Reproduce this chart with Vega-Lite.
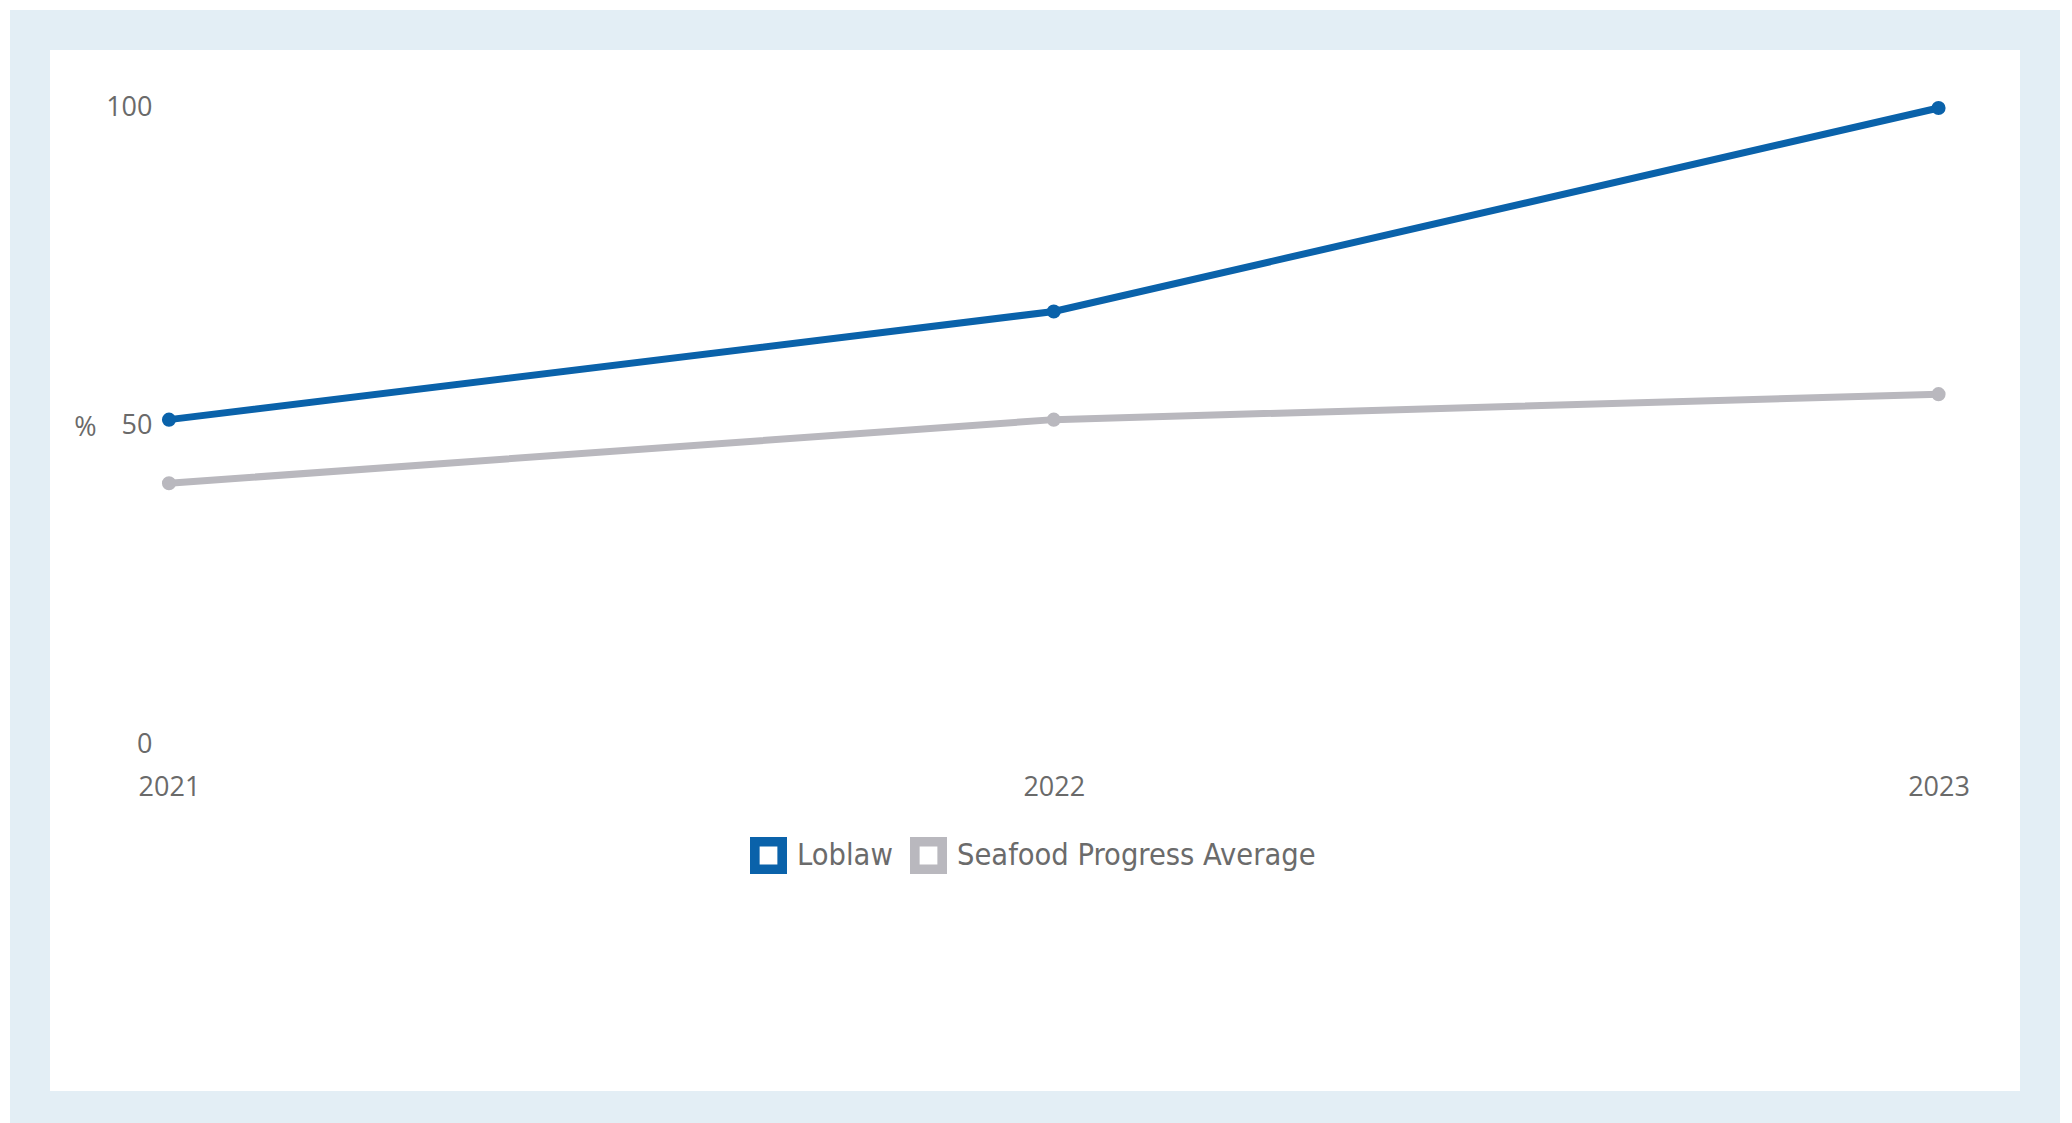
{
  "$schema": "https://vega.github.io/schema/vega-lite/v6.json",
  "width": 2010,
  "height": 1081,
  "autosize": {"type": "none"},
  "padding": {"left": 30, "top": 30, "right": 32, "bottom": 12},
  "background": "white",
  "config": {
    "view": {"stroke": "#e3eef5", "strokeWidth": 40, "fill": "white"},
    "axis": {"grid": false, "domain": false, "ticks": false, "labelFont": "Open Sans", "labelFontSize": 27, "labelColor": "#6a6a6a"}
  },
  "data": {
    "values": [
      {"year": 2021, "series": "Loblaw", "value": 51},
      {"year": 2022, "series": "Loblaw", "value": 68},
      {"year": 2023, "series": "Loblaw", "value": 100},
      {"year": 2021, "series": "Seafood Progress Average", "value": 41},
      {"year": 2022, "series": "Seafood Progress Average", "value": 51},
      {"year": 2023, "series": "Seafood Progress Average", "value": 55}
    ]
  },
  "encoding": {
    "x": {
      "field": "year", "type": "quantitative",
      "scale": {"domain": [2020.8429, 2023.1147], "nice": false, "zero": false},
      "axis": {"values": [2021, 2022, 2023], "format": "d", "title": null, "labelPadding": 0, "offset": -337, "labelBaseline": "top", "labelFlush": false, "labelOverlap": false}
    },
    "y": {
      "field": "value", "type": "quantitative",
      "scale": {"domain": [-57.7, 112.26], "nice": false, "zero": false},
      "axis": {"values": [0, 50, 100], "title": "%", "titleAngle": 0, "titleAlign": "center", "titleBaseline": "middle", "titleX": -67, "titleY": 397, "titleFont": "Open Sans", "titleFontSize": 27, "titleFontWeight": "normal", "titleColor": "#6a6a6a", "labelPadding": 0, "offset": -122, "labelAlign": "right", "labelBaseline": "middle", "labelFlush": false, "labelOverlap": false}
    }
  },
  "layer": [
    {
      "mark": {"type": "line", "strokeWidth": 7},
      "encoding": {
        "stroke": {
          "field": "series", "type": "nominal",
          "scale": {"domain": ["Loblaw", "Seafood Progress Average"], "range": ["#0a62aa", "#b9b8be"]},
          "legend": {
            "orient": "none", "legendX": 720, "legendY": 807, "direction": "horizontal", "title": null,
            "symbolType": "M-1,-1H1V1H-1Z M-0.48,-0.48V0.48H0.48V-0.48Z", "symbolSize": 1369, "symbolStrokeWidth": 0,
            "labelFont": "DejaVu Sans Condensed", "labelFontSize": 30.5, "labelColor": "#6b6b6b", "labelLimit": 0,
            "labelOffset": 10, "columnPadding": 17
          }
        }
      }
    },
    {
      "mark": {"type": "circle", "size": 200, "opacity": 1},
      "encoding": {
        "fill": {
          "field": "series", "type": "nominal",
          "scale": {"domain": ["Loblaw", "Seafood Progress Average"], "range": ["#0a62aa", "#b9b8be"]},
          "legend": null
        }
      }
    }
  ]
}
